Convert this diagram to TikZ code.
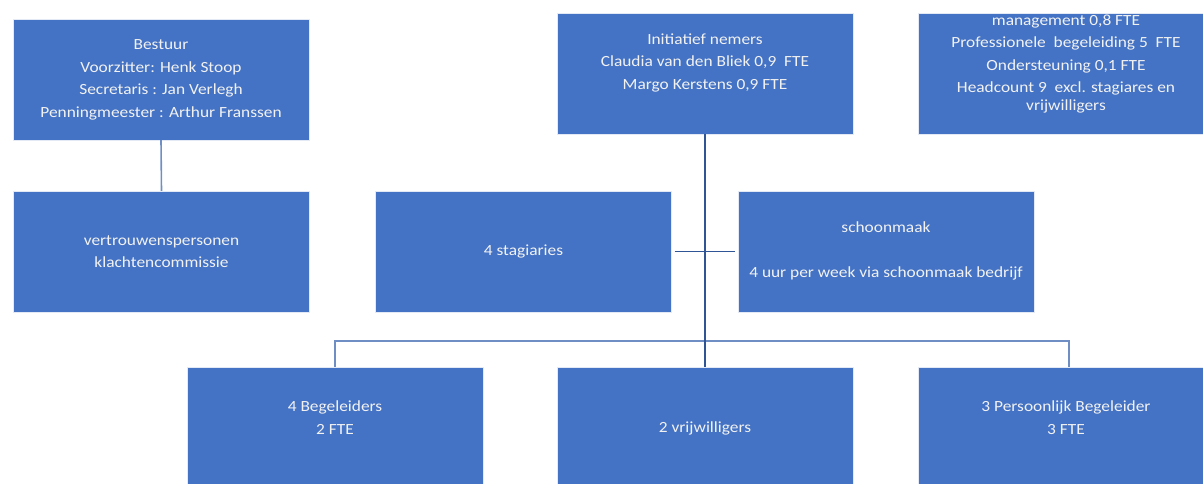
\documentclass[tikz,border=0pt]{standalone}
\usepackage{fontspec}
\setmainfont[FakeStretch=1.12]{Carlito}
\usepackage{tikz}
\usepackage{xcolor}
\definecolor{boxblue}{HTML}{4472C4}
\definecolor{linedark}{HTML}{2F5597}
\definecolor{linegrey}{HTML}{6F8FC4}
\definecolor{boxtext}{HTML}{F2F2F2}

\begin{document}
\begin{tikzpicture}[x=1pt,y=-1pt]
\useasboundingbox (0,0) rectangle (1203,483);
\clip (0,0) rectangle (1203,483);
\begin{scope}[every node/.style={rectangle,fill=boxblue,draw=white!85!boxblue,
              minimum width=296pt,minimum height=121pt,inner sep=0pt}]
    \node (bestuur) at (161,79.5) {};
    \node (vertr) at (161.5,251.5) {};
    \node (init) at (705,73.5) {};
    \node (mgmt) at (1066,73.5) {};
    \node (stag) at (523.5,251.5) {};
    \node (schoon) at (886,251.5) {};
    \node (beg) at (335,427.5) {};
    \node (vrij) at (705,427.5) {};
    \node (pers) at (1066,427.5) {};
\end{scope}

\begin{scope}[every node/.style={text=boxtext,align=center,inner sep=0pt,
              font=\fontsize{15.5}{22.5}\selectfont}]
    \node (tbestuur) at (161,80) {Bestuur\\Voorzitter: Henk Stoop\\Secretaris : Jan Verlegh\\Penningmeester : Arthur Franssen};
    \node (tvertr) at (161.5,251.5) {vertrouwenspersonen\\klachtencommissie};
    \node (tinit) at (705,62.5) {Initiatief nemers\\Claudia van den Bliek 0,9~ FTE\\Margo Kerstens 0,9 FTE};
    \node (tmgmt) at (1066,64) {management 0,8 FTE\\Professionele~ begeleiding 5~ FTE\\Ondersteuning 0,1 FTE\\Headcount 9~ excl. stagiares en\\[-5pt]vrijwilligers};
    \node (tstag) at (523.5,251) {4 stagiaries};
    \node (tschoon) at (886,251) {schoonmaak\\[22.5pt]4 uur per week via schoonmaak bedrijf};
    \node (tbeg) at (335,417.5) {4 Begeleiders\\2 FTE};
    \node (tvrij) at (705,428.5) {2 vrijwilligers};
    \node (tpers) at (1066,417.5) {3 Persoonlijk Begeleider\\3 FTE};
\end{scope}

\begin{scope}[every path/.style={line width=1.6pt}]
    \coordinate (busL) at (335,341);
    \coordinate (busR) at (1069,341);
    \draw[linegrey] (bestuur.south) -- (vertr.north);
    \draw[linegrey] (beg.north) -- (busL) -- (busR) -- (busR |- pers.north);
    \draw[linedark] (init.south) -- (vrij.north);
    \draw[linedark,shorten <=3pt,shorten >=3pt] (stag.east) -- (schoon.west);
\end{scope}
\end{tikzpicture}
\end{document}
